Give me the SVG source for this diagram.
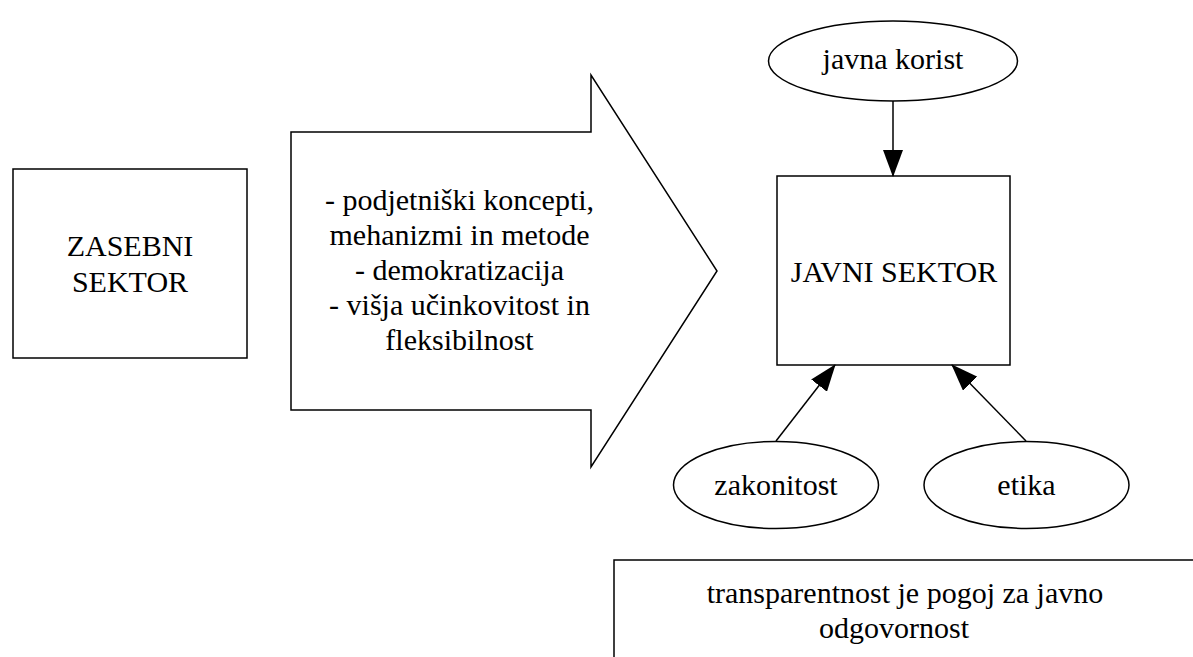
<svg xmlns="http://www.w3.org/2000/svg" width="1193" height="657" viewBox="0 0 1193 657">
<style>
.s{fill:#fff;stroke:#000;stroke-width:1.5}
.t{font-size:30px;fill:#000;text-anchor:middle}
.c{fill:none;stroke:#000;stroke-width:1.5}
</style>
<defs>
<marker id="ah" markerUnits="userSpaceOnUse" markerWidth="27" markerHeight="20" viewBox="0 0 27 20" refX="26" refY="10" orient="auto">
<path d="M0,0 L27,10 L0,20 z" fill="#000"/>
</marker>
</defs>
<rect width="1193" height="657" fill="#fff"/>
<g font-family="Liberation Serif, serif">
<g id="zasebni">
<rect class="s" x="13" y="169" width="234" height="189"/>
<text class="t" x="130" y="256">ZASEBNI</text>
<text class="t" x="130" y="292">SEKTOR</text>
</g>
<g id="arrow">
<polygon class="s" points="291,132 591,132 591,75 717,271 591,467 591,410 291,410"/>
<text class="t" x="459.5" y="210">- podjetniški koncepti,</text>
<text class="t" x="459.5" y="245">mehanizmi in metode</text>
<text class="t" x="459.5" y="280">- demokratizacija</text>
<text class="t" x="459.5" y="315">- višja učinkovitost in</text>
<text class="t" x="459.5" y="350">fleksibilnost</text>
</g>
<g id="javna-korist">
<ellipse class="s" cx="893" cy="61" rx="124.5" ry="40"/>
<text class="t" x="893" y="69">javna korist</text>
</g>
<g id="javni-sektor">
<rect class="s" x="777" y="176" width="233" height="189"/>
<text class="t" x="894" y="282">JAVNI SEKTOR</text>
</g>
<g id="zakonitost">
<ellipse class="s" cx="776" cy="485" rx="102.5" ry="43.5"/>
<text class="t" x="776" y="495">zakonitost</text>
</g>
<g id="etika">
<ellipse class="s" cx="1026.5" cy="485" rx="102.5" ry="43.5"/>
<text class="t" x="1026.5" y="495">etika</text>
</g>
<g id="transparentnost">
<rect class="s" x="614" y="560" width="600" height="120"/>
<text class="t" x="905" y="603">transparentnost je pogoj za javno</text>
<text class="t" x="894" y="638">odgovornost</text>
</g>
</g>
<g id="connectors">
<line class="c" x1="893" y1="101" x2="893" y2="176" marker-end="url(#ah)"/>
<line class="c" x1="776" y1="441" x2="835" y2="365" marker-end="url(#ah)"/>
<line class="c" x1="1026" y1="441" x2="952" y2="365" marker-end="url(#ah)"/>
</g>
</svg>
